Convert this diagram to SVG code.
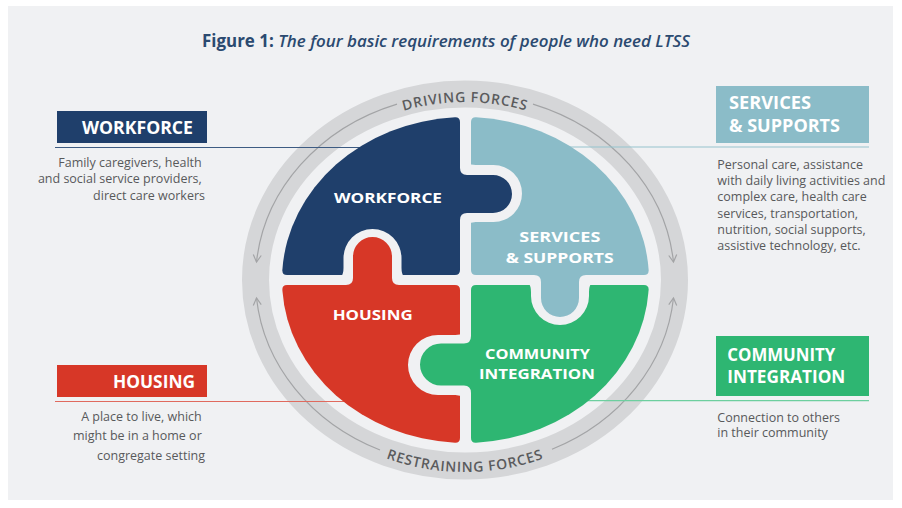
<svg xmlns="http://www.w3.org/2000/svg" width="902" height="508" viewBox="0 0 902 508">
<style>
.bg{fill:#f0f1f3}
.title{font-family:"Open Sans","Liberation Sans",sans-serif;font-size:17px;fill:#2b4a70}
.lbl{font-family:"Open Sans","Liberation Sans",sans-serif;font-size:15px;font-weight:700;fill:#ffffff}
.box{font-family:"Open Sans","Liberation Sans",sans-serif;font-size:17px;font-weight:700;fill:#ffffff}
.desc{font-family:"Open Sans","Liberation Sans",sans-serif;font-size:12.5px;fill:#58595b}
.force{font-family:"Open Sans","Liberation Sans",sans-serif;font-size:14px;font-weight:600;fill:#5a5b5d;letter-spacing:0.8px}
.arr{fill:none;stroke:#a3a4a6;stroke-width:1.2;marker-end:url(#ah)}
.conn{fill:none;stroke-width:1.2}
</style>
<defs>
<marker id="ah" viewBox="0 0 10 10" refX="8" refY="5" markerWidth="10" markerHeight="10" markerUnits="userSpaceOnUse" orient="auto">
<path d="M1,1 L8,5 L1,9" fill="none" stroke="#a3a4a6" stroke-width="1.2"/>
</marker>
<path id="topArc" d="M 266,280 A 199 178 0 0 1 664,280"/>
<path id="botArc" d="M 252,280 A 213 192 0 0 0 678,280"/>
<mask id="m-work" maskUnits="userSpaceOnUse" x="0" y="0" width="902" height="508">
<rect width="902" height="508" fill="#fff"/>
<path d="M 333.5,280 Q 343.5,280 343.5,268 L 343.5,258 A 29 29 0 0 1 401.5,258 L 401.5,268 Q 401.5,280 411.5,280 Z" fill="#000"/>
</mask>
<mask id="m-serv" maskUnits="userSpaceOnUse" x="0" y="0" width="902" height="508">
<rect width="902" height="508" fill="#fff"/>
<path d="M 465.5,155 Q 465.5,165 475.5,165 L 493.5,165 A 28.5 28.5 0 0 1 493.5,222 L 475.5,222 Q 465.5,222 465.5,232 Z" fill="#000"/>
</mask>
<mask id="m-comm" maskUnits="userSpaceOnUse" x="0" y="0" width="902" height="508">
<rect width="902" height="508" fill="#fff"/>
<path d="M 521,280 Q 531,280 531,292 L 531,296 A 29 29 0 0 0 589,296 L 589,292 Q 589,280 599,280 Z" fill="#000"/>
</mask>
<mask id="m-hous" maskUnits="userSpaceOnUse" x="0" y="0" width="902" height="508">
<rect width="902" height="508" fill="#fff"/>
<path d="M 465.5,325 Q 465.5,335 455.5,335 L 438,335 A 30 30 0 0 0 438,395 L 455.5,395 Q 465.5,395 465.5,405 Z" fill="#000"/>
</mask>
</defs>

<rect width="902" height="508" fill="#ffffff"/>
<rect class="bg" x="8" y="6" width="885" height="494"/>

<text class="title" x="202" y="47" textLength="488" lengthAdjust="spacingAndGlyphs"><tspan font-weight="700">Figure 1: </tspan><tspan font-style="italic" font-weight="600">The four basic requirements of people who need LTSS</tspan></text>

<g id="ring">
<ellipse cx="465" cy="280" rx="209.5" ry="186" fill="none" stroke="#d5d6d8" stroke-width="27"/>
<path class="arr" d="M 397,104.1 A 209.5 186 0 0 0 256.5,262"/>
<path class="arr" d="M 533,104.1 A 209.5 186 0 0 1 673.5,262"/>
<path class="arr" d="M 380,450 A 209.5 186 0 0 1 256.5,298"/>
<path class="arr" d="M 552,449.2 A 209.5 186 0 0 0 673.5,298"/>
<text class="force" text-anchor="middle"><textPath href="#topArc" startOffset="50%">DRIVING FORCES</textPath></text>
<text class="force" text-anchor="middle"><textPath href="#botArc" startOffset="50%">RESTRAINING FORCES</textPath></text>
</g>

<g id="connectors">
<line class="conn" x1="55" y1="147.5" x2="400" y2="147.5" stroke="#3d5b82"/>
<line class="conn" x1="560" y1="147" x2="869" y2="147" stroke="#96c3ce"/>
<line class="conn" x1="55" y1="401.5" x2="380" y2="401.5" stroke="#e06a5e"/>
<line class="conn" x1="560" y1="400.7" x2="869" y2="400.7" stroke="#6dcf9f"/>
</g>

<g id="node-workforce">
<g mask="url(#m-work)" fill="#1f3f6b">
<path d="M 460,122 Q 460,117.1 455,117.3 A 183.5 163 0 0 0 282.35,270 Q 282.1,275 287,275 L 455,275 Q 460,275 460,270 Z"/>
<path d="M 460,168 Q 460,175 467,175 L 493,175 A 19 19 0 0 1 493,213 L 467,213 Q 460,213 460,220 L 455,220 L 455,168 Z"/>
</g>
<text class="lbl" x="334" y="202.7" textLength="108" lengthAdjust="spacingAndGlyphs">WORKFORCE</text>
<rect x="57" y="111" width="150" height="32" fill="#1f3f6b"/>
<text class="box" x="82" y="134" textLength="111" lengthAdjust="spacingAndGlyphs">WORKFORCE</text>
<text class="desc" text-anchor="end">
<tspan x="205" y="166.5">Family caregivers, health</tspan>
<tspan x="205" y="183.3">and social service providers,</tspan>
<tspan x="205" y="200">direct care workers</tspan>
</text>
</g>

<g id="node-services">
<g mask="url(#m-serv)" fill="#8bbcc8">
<path d="M 471,122 Q 471,117.1 476,117.3 A 183.5 163 0 0 1 648.65,270 Q 648.9,275 644,275 L 476,275 Q 471,275 471,270 Z"/>
<path d="M 534,275 Q 541,275 541,282 L 541,298 A 19 19 0 0 0 579,298 L 579,282 Q 579,275 586,275 L 586,270 L 534,270 Z"/>
</g>
<text class="lbl" x="519.3" y="242" textLength="81" lengthAdjust="spacingAndGlyphs">SERVICES</text>
<text class="lbl" x="505.7" y="262.7" textLength="108" lengthAdjust="spacingAndGlyphs">&amp; SUPPORTS</text>
<rect x="716" y="86" width="153" height="57" fill="#8bbcc8"/>
<text class="box" x="729" y="109.3" textLength="82" lengthAdjust="spacingAndGlyphs">SERVICES</text>
<text class="box" x="729" y="131.7" textLength="111" lengthAdjust="spacingAndGlyphs">&amp; SUPPORTS</text>
<text class="desc">
<tspan x="717.3" y="168.5">Personal care, assistance</tspan>
<tspan x="717.3" y="184.5">with daily living activities and</tspan>
<tspan x="717.3" y="201">complex care, health care</tspan>
<tspan x="717.3" y="218">services, transportation,</tspan>
<tspan x="717.3" y="234">nutrition, social supports,</tspan>
<tspan x="717.3" y="250">assistive technology, etc.</tspan>
</text>
</g>

<g id="node-housing">
<g mask="url(#m-hous)" fill="#d73727">
<path d="M 460,438 L 460,290 Q 460,285 455,285 L 287,285 Q 282.1,285 282.35,290 A 183.5 163 0 0 0 455,442.73 Q 460,442.93 460,438 Z"/>
<path d="M 346,285 Q 353,285 353,278 L 353,256.5 A 19.5 19.5 0 0 1 392,256.5 L 392,278 Q 392,285 399,285 L 399,290 L 346,290 Z"/>
</g>
<text class="lbl" x="332.7" y="320" textLength="80" lengthAdjust="spacingAndGlyphs">HOUSING</text>
<rect x="57" y="365" width="150" height="32" fill="#d73727"/>
<text class="box" x="113" y="388" textLength="82" lengthAdjust="spacingAndGlyphs">HOUSING</text>
<text class="desc" text-anchor="end">
<tspan x="205" y="421">A place to live, which</tspan>
<tspan x="205" y="440">might be in a home or</tspan>
<tspan x="205" y="459.5">congregate setting</tspan>
</text>
</g>

<g id="node-community">
<g mask="url(#m-comm)" fill="#2eb672">
<path d="M 471,438 L 471,290 Q 471,285 476,285 L 644,285 Q 648.9,285 648.65,290 A 183.5 163 0 0 1 476,442.73 Q 471,442.93 471,438 Z"/>
<path d="M 471,336 Q 471,343.5 464,343.5 L 441,343.5 A 21 21 0 0 0 441,385.5 L 464,385.5 Q 471,385.5 471,393 L 476,393 L 476,336 Z"/>
</g>
<text class="lbl" x="485" y="358.6" textLength="105" lengthAdjust="spacingAndGlyphs">COMMUNITY</text>
<text class="lbl" x="479" y="379" textLength="116" lengthAdjust="spacingAndGlyphs">INTEGRATION</text>
<rect x="716" y="336" width="153" height="60" fill="#2eb672"/>
<text class="box" x="727.3" y="360.7" textLength="108" lengthAdjust="spacingAndGlyphs">COMMUNITY</text>
<text class="box" x="727.3" y="383.3" textLength="118" lengthAdjust="spacingAndGlyphs">INTEGRATION</text>
<text class="desc">
<tspan x="717.3" y="421.5">Connection to others</tspan>
<tspan x="717.3" y="437">in their community</tspan>
</text>
</g>
</svg>
